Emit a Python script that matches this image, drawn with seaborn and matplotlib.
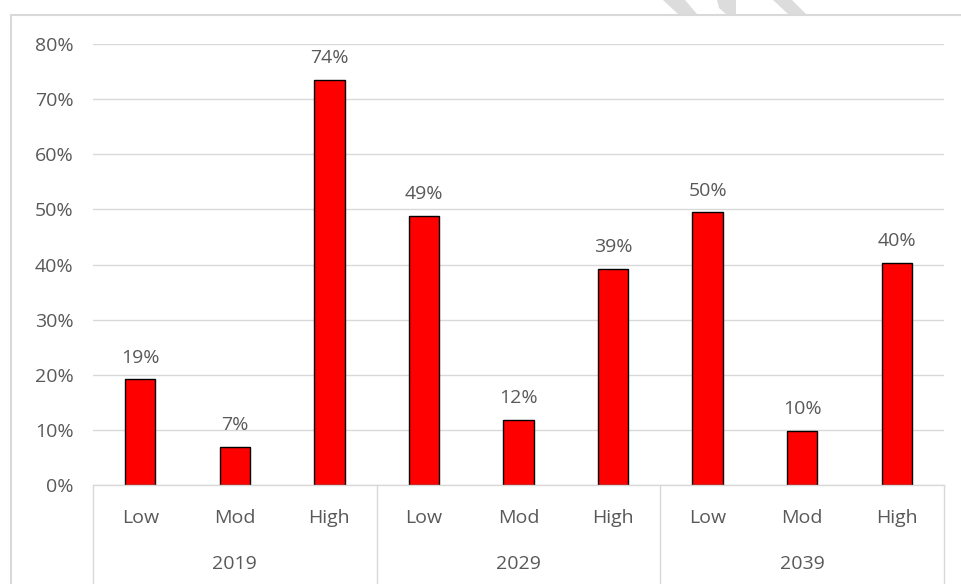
import matplotlib
matplotlib.use("Agg")
import matplotlib.pyplot as plt
import matplotlib.transforms as mtransforms
from matplotlib.lines import Line2D
from matplotlib.patches import Polygon
from matplotlib.ticker import PercentFormatter
import pandas as pd
import seaborn as sns

years = ["2019", "2029", "2039"]
levels = ["Low", "Mod", "High"]
shares_2019 = [0.192, 0.069, 0.735]
shares_2029 = [0.488, 0.118, 0.392]
shares_2039 = [0.495, 0.098, 0.403]
y_ticks = [0.0, 0.1, 0.2, 0.3, 0.4, 0.5, 0.6, 0.7, 0.8]

rows = []
for year, vals in zip(years, [shares_2019, shares_2029, shares_2039]):
    for lvl, v in zip(levels, vals):
        rows.append({"key": f"{year}-{lvl}", "year": year, "level": lvl, "share": v})
df = pd.DataFrame(rows)

sns.set_theme(style="white")
plt.rcParams["font.family"] = ["Open Sans", "DejaVu Sans"]
text_color = "#595959"
grid_color = "#d9d9d9"
W, H = 961, 584

fig = plt.figure(figsize=(W / 100, H / 100), dpi=100)
ax = fig.add_axes([93 / W, 1 - 485 / H, (944 - 93) / W, (485 - 44) / H])

sns.barplot(data=df, x="key", y="share", order=df["key"].tolist(), color="#ff0000",
            edgecolor="black", linewidth=1.0, width=0.32, saturation=1, ax=ax)

ax.set_ylim(0, 0.8)
ax.set_xlim(-0.5, len(df) - 0.5)
ax.set_yticks(y_ticks)
ax.yaxis.set_major_formatter(PercentFormatter(1.0, decimals=0))
ax.yaxis.grid(True, color=grid_color, linewidth=1.0)
ax.set_axisbelow(True)
for side in ["top", "right", "left"]:
    ax.spines[side].set_visible(False)
ax.spines["bottom"].set_color(grid_color)
ax.spines["bottom"].set_linewidth(1.0)
ax.tick_params(axis="y", length=0, pad=14, labelsize=14, labelcolor=text_color)
ax.tick_params(axis="x", length=0, pad=17, labelsize=14, labelcolor=text_color)
ax.set_xticks(range(len(df)))
ax.set_xticklabels(df["level"].tolist())
ax.set_xlabel("")
ax.set_ylabel("")

# value labels above bars
for i, v in enumerate(df["share"]):
    ax.annotate(f"{v:.0%}", (i, v), xytext=(0, 9), textcoords="offset points",
                ha="center", va="bottom", fontsize=14, color=text_color)

# year group labels and separators below the axis
trans = mtransforms.blended_transform_factory(ax.transData, fig.transFigure)
for g, year in enumerate(years):
    ax.text(g * 3 + 1, 1 - 564 / H, year, transform=trans, ha="center", va="center",
            fontsize=14, color=text_color)
for b in [-0.5, 2.5, 5.5, 8.5]:
    ax.add_line(Line2D([b, b], [1 - 485 / H, 0], transform=trans, color=grid_color,
                       linewidth=1.0, clip_on=False))

# chart frame
fig.add_artist(Line2D([11 / W, 1], [1 - 15 / H, 1 - 15 / H], transform=fig.transFigure,
                      color="#d9d9d9", linewidth=1.5))
fig.add_artist(Line2D([11 / W, 11 / W], [0, 1 - 15 / H], transform=fig.transFigure,
                      color="#d9d9d9", linewidth=1.5))

# faint watermark strokes peeking above the frame
def px(points):
    return [(x / W, 1 - y / H) for x, y in points]

wm = "#dcdcdc"
for shape in [
    [(663, 0), (685, 0), (697, 14), (678, 14)],
    [(717, 0), (736, 0), (736, 14), (726, 14), (719, 8)],
    [(773, 0), (792, 0), (806, 14), (788, 14)],
]:
    fig.add_artist(Polygon(px(shape), closed=True, transform=fig.transFigure,
                           facecolor=wm, edgecolor="none"))

fig.savefig("out.png", dpi=100, facecolor="white")
